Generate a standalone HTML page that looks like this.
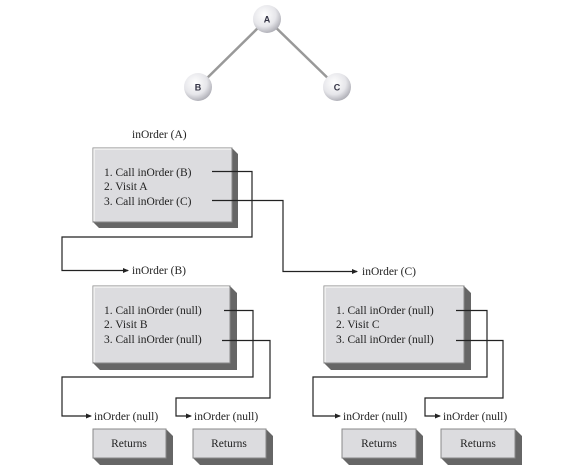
<!DOCTYPE html>
<html><head><meta charset="utf-8"><style>
html,body{margin:0;padding:0;background:#fff;}
svg{display:block;}
text{font-family:"Liberation Serif",serif;font-size:11.5px;fill:#222;}
.s{font-family:"Liberation Sans",sans-serif;font-size:9px;font-weight:bold;fill:#334;}
</style></head><body>
<svg width="575" height="473" viewBox="0 0 575 473">
<defs>
<radialGradient id="g" cx="0.4" cy="0.35" r="0.7">
<stop offset="0" stop-color="#ffffff"/><stop offset="0.6" stop-color="#e6e6ea"/><stop offset="1" stop-color="#a8a8b0"/>
</radialGradient>
<marker id="ar" markerWidth="6" markerHeight="6" refX="5" refY="3" orient="auto" markerUnits="userSpaceOnUse">
<path d="M0,0.5 L6,3 L0,5.5 Z" fill="#222"/></marker>
</defs>
<line x1="267" y1="19" x2="198" y2="87" stroke="#999" stroke-width="2.5"/>
<line x1="267" y1="19" x2="337" y2="87" stroke="#999" stroke-width="2.5"/>
<circle cx="267" cy="19" r="14" fill="url(#g)"/>
<circle cx="198" cy="87" r="14" fill="url(#g)"/>
<circle cx="337" cy="87" r="14" fill="url(#g)"/>
<text class="s" x="267" y="22.5" text-anchor="middle">A</text>
<text class="s" x="198" y="90.5" text-anchor="middle">B</text>
<text class="s" x="337" y="90.5" text-anchor="middle">C</text>

<polygon points="232,148 238,154 238,228 99,228 93,222 232,222" fill="#666"/>
<rect x="93" y="148" width="139" height="74" fill="#dcdcdf" stroke="#888" stroke-width="1"/>
<polyline points="94,221 94,149 231,149" fill="none" stroke="#f4f4f4" stroke-width="1.5"/>
<polygon points="230,286 237,293 237,370 100,370 93,363 230,363" fill="#666"/>
<rect x="93" y="286" width="137" height="77" fill="#dcdcdf" stroke="#888"/>
<polyline points="94,362 94,287 229,287" fill="none" stroke="#f4f4f4" stroke-width="1.5"/>
<polygon points="464,286 471,293 471,370 331,370 324,363 464,363" fill="#666"/>
<rect x="324" y="286" width="140" height="77" fill="#dcdcdf" stroke="#888"/>
<polyline points="325,362 325,287 463,287" fill="none" stroke="#f4f4f4" stroke-width="1.5"/>

<polygon points="166,429 173,436 173,465 100,465 93,458 166,458" fill="#666"/>
<rect x="93" y="429" width="73" height="29" fill="#dcdcdf" stroke="#888"/>
<polygon points="266,429 273,436 273,465 200,465 193,458 266,458" fill="#666"/>
<rect x="193" y="429" width="73" height="29" fill="#dcdcdf" stroke="#888"/>
<polygon points="416,429 423,436 423,465 349,465 342,458 416,458" fill="#666"/>
<rect x="342" y="429" width="74" height="29" fill="#dcdcdf" stroke="#888"/>
<polygon points="515,429 522,436 522,465 448,465 441,458 515,458" fill="#666"/>
<rect x="441" y="429" width="74" height="29" fill="#dcdcdf" stroke="#888"/>
<text x="129" y="447" text-anchor="middle">Returns</text>
<text x="229" y="447" text-anchor="middle">Returns</text>
<text x="379" y="447" text-anchor="middle">Returns</text>
<text x="478" y="447" text-anchor="middle">Returns</text>

<text x="132" y="138">inOrder (A)</text>
<text x="104" y="176">1. Call inOrder (B)</text>
<text x="104" y="190">2. Visit A</text>
<text x="104" y="205">3. Call inOrder (C)</text>
<text x="132" y="274">inOrder (B)</text>
<text x="362" y="275">inOrder (C)</text>
<text x="104" y="314">1. Call inOrder (null)</text>
<text x="104" y="328">2. Visit B</text>
<text x="104" y="343">3. Call inOrder (null)</text>
<text x="336" y="314">1. Call inOrder (null)</text>
<text x="336" y="328">2. Visit C</text>
<text x="336" y="343">3. Call inOrder (null)</text>
<text x="94" y="420">inOrder (null)</text>
<text x="194" y="420">inOrder (null)</text>
<text x="343" y="420">inOrder (null)</text>
<text x="443" y="420">inOrder (null)</text>

<g fill="none" stroke="#222" stroke-width="1.2">
<polyline points="212,171.5 252,171.5 252,237 62,237 62,270.5 128,270.5" marker-end="url(#ar)"/>
<polyline points="212,200.5 283,200.5 283,271.5 357,271.5" marker-end="url(#ar)"/>
<polyline points="224,310.5 253,310.5 253,377 62,377 62,416 91,416" marker-end="url(#ar)"/>
<polyline points="222,340.5 270,340.5 270,398 176,398 176,416 191,416" marker-end="url(#ar)"/>
<polyline points="456,310.5 487,310.5 487,377 313,377 313,416 340,416" marker-end="url(#ar)"/>
<polyline points="456,340.5 503,340.5 503,398 425,398 425,416 440,416" marker-end="url(#ar)"/>
</g>
</svg>
</body></html>
